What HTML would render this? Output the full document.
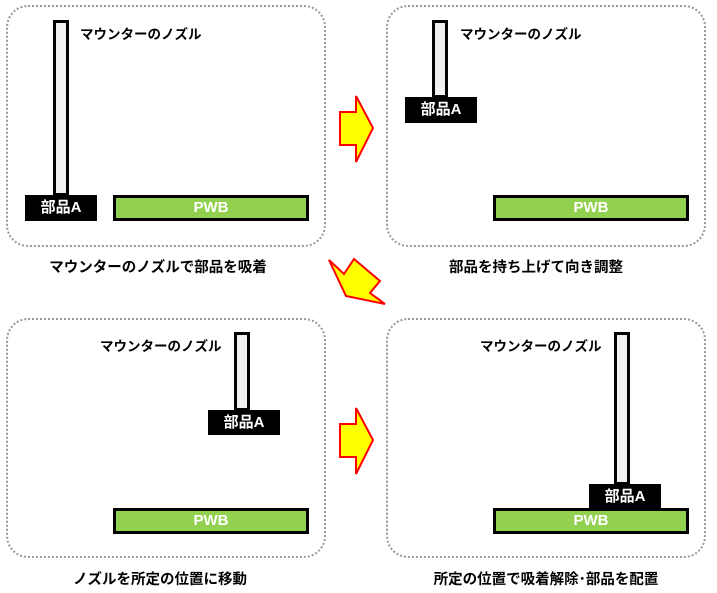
<!DOCTYPE html>
<html><head><meta charset="utf-8"><style>
body{margin:0;width:717px;height:593px;background:#fff;overflow:hidden;position:relative;font-family:"Liberation Sans","Noto Sans CJK JP",sans-serif;font-weight:bold}
.box{position:absolute;border:2px dotted #999;border-radius:22px;box-sizing:border-box}
.noz{position:absolute;background:#f0f0f0;border:3px solid #000;box-sizing:border-box}
.part{position:absolute;background:#000;color:#fff;font-size:15px;text-align:center;box-sizing:border-box;line-height:25px}
.pwb{position:absolute;background:#92d050;border:3px solid #000;color:#fff;font-size:15px;text-align:center;box-sizing:border-box;line-height:19px}
.lbl{position:absolute;font-size:13.5px;color:#000;white-space:nowrap}
.cap{position:absolute;font-size:14.5px;color:#000;white-space:nowrap;text-align:center;width:320px}
</style></head><body>
<div class="box" style="left:6px;top:5px;width:320px;height:242px"></div>
<div class="box" style="left:386px;top:5px;width:320px;height:242px"></div>
<div class="box" style="left:6px;top:318px;width:320px;height:240px"></div>
<div class="box" style="left:386px;top:318px;width:320px;height:240px"></div>

<div class="noz" style="left:53px;top:20px;width:16px;height:176px"></div>
<div class="lbl" style="left:80px;top:23px">マウンターのノズル</div>
<div class="part" style="left:25px;top:195px;width:72px;height:26px">部品A</div>
<div class="pwb" style="left:113px;top:195px;width:196px;height:26px">PWB</div>
<div class="cap" style="left:-2px;top:256px">マウンターのノズルで部品を吸着</div>

<div class="noz" style="left:432px;top:20px;width:16px;height:78px"></div>
<div class="lbl" style="left:460px;top:23px">マウンターのノズル</div>
<div class="part" style="left:405px;top:97px;width:72px;height:26px">部品A</div>
<div class="pwb" style="left:493px;top:195px;width:196px;height:26px">PWB</div>
<div class="cap" style="left:376px;top:256px">部品を持ち上げて向き調整</div>

<div class="noz" style="left:234px;top:332px;width:16px;height:79px"></div>
<div class="lbl" style="left:100px;top:335px">マウンターのノズル</div>
<div class="part" style="left:208px;top:410px;width:72px;height:25px">部品A</div>
<div class="pwb" style="left:113px;top:508px;width:196px;height:26px">PWB</div>
<div class="cap" style="left:0px;top:568px">ノズルを所定の位置に移動</div>

<div class="noz" style="left:614px;top:332px;width:16px;height:153px"></div>
<div class="lbl" style="left:480px;top:335px">マウンターのノズル</div>
<div class="part" style="left:589px;top:484px;width:72px;height:25px">部品A</div>
<div class="pwb" style="left:493px;top:508px;width:196px;height:26px">PWB</div>
<div class="cap" style="left:386px;top:568px">所定の位置で吸着解除･部品を配置</div>

<svg style="position:absolute;left:0;top:0" width="717" height="593">
<g fill="#ffff00" stroke="#ff0000" stroke-width="2" stroke-linejoin="miter">
<polygon points="340,112 356,112 356,96 373,128 356,162 356,145 340,145"/>
<polygon points="340,424 356,424 356,408 373,440 356,474 356,457 340,457"/>
<polygon points="329,260 344,274 354,259 380,281 370,293 385,304 346,296"/>
</g></svg>
</body></html>
